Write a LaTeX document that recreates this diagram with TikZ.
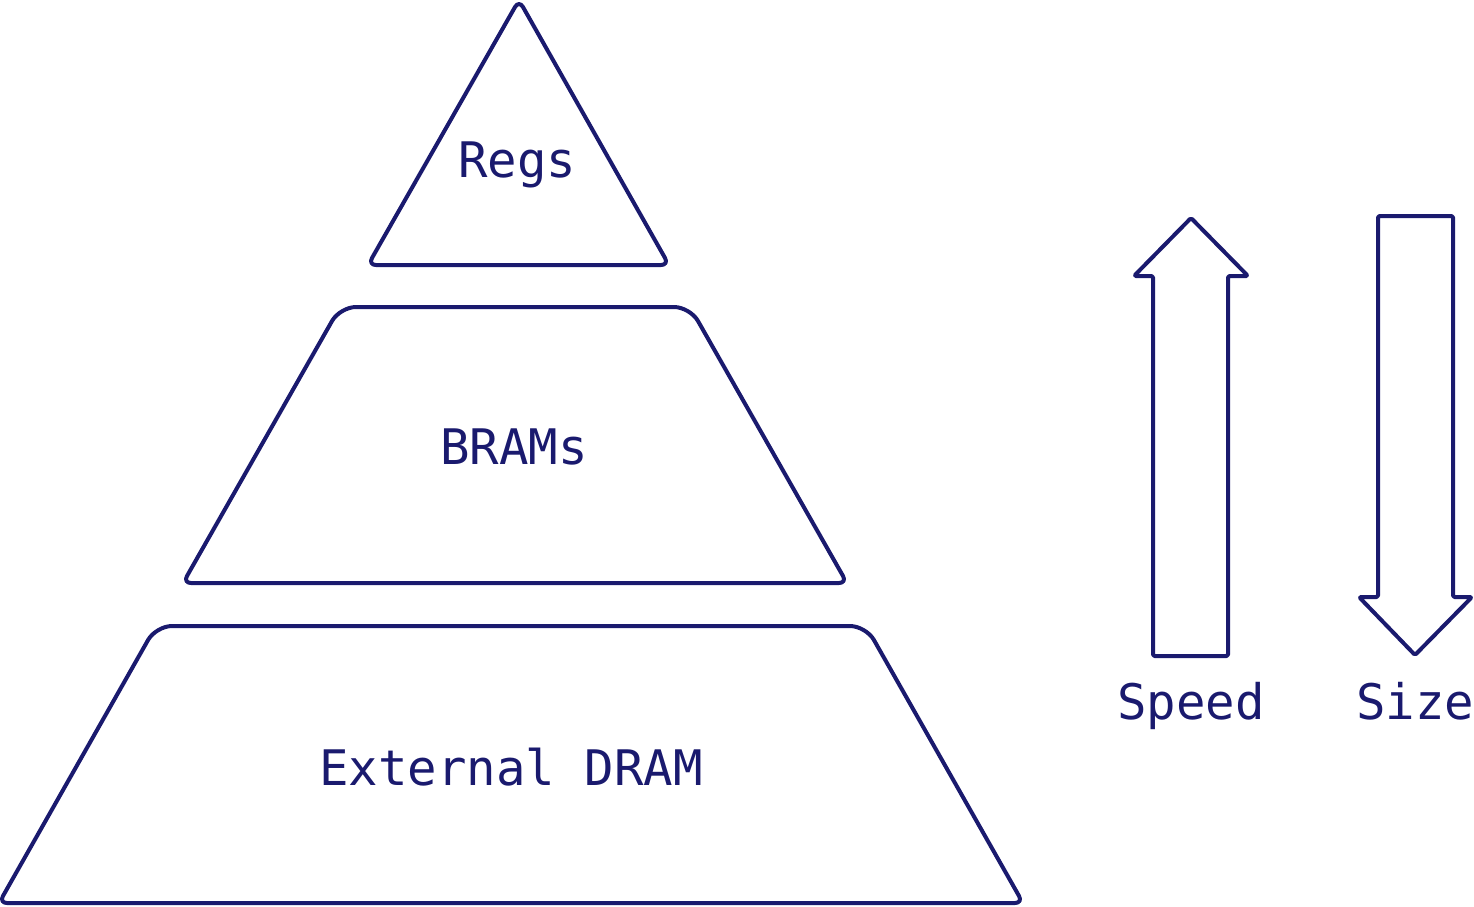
\documentclass[tikz,border=0pt]{standalone}
\usepackage{fontspec}
\usepackage{tikz}
\usetikzlibrary{positioning}
\newfontfamily\memfont{DejaVu Sans Mono}
\definecolor{memblue}{RGB}{26, 26, 110}

\begin{document}
\begin{tikzpicture}[x=1pt, y=-1pt,
    level/.style={draw=memblue, line width=4pt, line join=round},
    bigarrow/.style={draw=memblue, line width=4pt, line join=round, rounded corners=1.5pt},
    lbl/.style={text=memblue, anchor=base, inner sep=0pt, font=\memfont\fontsize{49}{58}\selectfont}
]
\useasboundingbox (0,0) rectangle (1474,906);

% memory hierarchy
\draw[level, rounded corners=8pt] (518,265) -- (669,265) -- (519,0) -- (368,265) -- cycle;
\draw[level] (515,583) [rounded corners=8pt] -- (847,583) [rounded corners=16pt] -- (690,307)
    -- (340,307) [rounded corners=8pt] -- (183,583) -- cycle;
\draw[level] (511,903) [rounded corners=8pt] -- (1023,903) [rounded corners=16pt] -- (866,626)
    -- (156,626) [rounded corners=8pt] -- (-1,903) -- cycle;

\node[lbl] (regs) at (517,177) {Regs};
\node[lbl] (brams) at (514,464) {BRAMs};
\node[lbl] (dram) at (511,785) {External DRAM};

% speed / size
\draw[bigarrow] (1191,218) -- (1248,276) -- (1228,276) -- (1228,656) -- (1153,656)
    -- (1153,276) -- (1134,276) -- cycle;
\draw[bigarrow] (1378,216) -- (1453,216) -- (1453,597) -- (1472,597) -- (1415,655)
    -- (1359,597) -- (1378,597) -- cycle;

\node[lbl] (speed) at (1191,719) {Speed};
\node[lbl] (size) at (1415,719) {Size};
\end{tikzpicture}
\end{document}
